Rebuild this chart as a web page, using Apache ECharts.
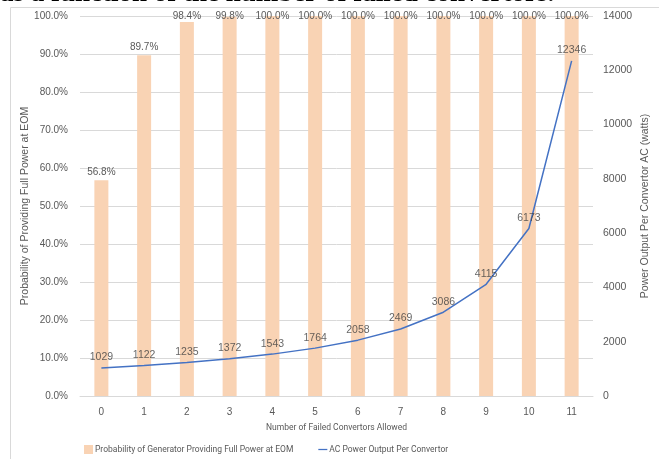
<!DOCTYPE html>
<html>
<head>
<meta charset="utf-8">
<script src="https://cdn.jsdelivr.net/npm/echarts@6/dist/echarts.min.js"></script>
<style>
  html, body { margin: 0; padding: 0; background: #fff; }
  #chart { width: 659px; height: 459px; }
</style>
</head>
<body>
<div id="chart"></div>
<script>
// Number of failed convertors allowed (x axis)
const failedAllowed = ['0', '1', '2', '3', '4', '5', '6', '7', '8', '9', '10', '11'];
// Probability of the generator providing full power at EOM (%)
const probabilityFullPower = [56.8, 89.7, 98.4, 99.8, 100.0, 100.0, 100.0, 100.0, 100.0, 100.0, 100.0, 100.0];
// AC power output per convertor (watts)
const acPowerPerConvertor = [1029, 1122, 1235, 1372, 1543, 1764, 2058, 2469, 3086, 4115, 6173, 12346];

const FONT = '"Liberation Sans", Arial, sans-serif';
const FONT_NARROW = 'Roboto, "Liberation Sans", sans-serif';
const TXT = '#595959';
const GRID_LINE = '#D9D9D9';
const LINE_BLUE = '#4472C4';
const BAR_NAME = 'Probability of Generator Providing Full Power at EOM';
const LINE_NAME = 'AC Power Output Per Convertor';

const chart = echarts.init(document.getElementById('chart'), null, { renderer: 'canvas' });

chart.setOption({
  animation: false,
  textStyle: { fontFamily: FONT },
  graphic: [
    {
      type: 'rect',
      shape: { x: 10.5, y: 7.5, width: 800, height: 600 },
      style: { fill: 'none', stroke: GRID_LINE, lineWidth: 1 },
      silent: true, z: -10
    },
    {
      type: 'text',
      x: 0, y: -6,
      z: 100,
      style: {
        text: 'as a function of the number of failed convertors.',
        font: 'bold 27px "Liberation Serif", "DejaVu Serif", serif',
        fill: '#000',
        verticalAlign: 'middle'
      },
      silent: true
    }
  ],
  grid: { left: 80, right: 66, top: 16, bottom: 63, containLabel: false },
  legend: {
    left: 84, top: 445,
    padding: 0,
    itemGap: 25,
    itemWidth: 9, itemHeight: 9,
    textStyle: { color: TXT, fontSize: 8.5, fontFamily: FONT_NARROW, padding: [0, 0, 0, -3] },
    data: [
      { name: BAR_NAME, icon: 'rect' },
      { name: LINE_NAME, icon: 'path://M0,0 L10,0 L10,1.4 L0,1.4 Z', itemStyle: { color: LINE_BLUE } }
    ]
  },
  xAxis: {
    type: 'category',
    data: failedAllowed,
    name: 'Number of Failed Convertors Allowed',
    nameLocation: 'middle',
    nameGap: 27,
    nameMoveOverlap: false,
    nameTextStyle: { color: TXT, fontSize: 8.5, fontFamily: FONT_NARROW },
    axisLine: { lineStyle: { color: GRID_LINE } },
    axisTick: { show: false },
    axisLabel: { color: TXT, fontSize: 10, margin: 11 }
  },
  yAxis: [
    {
      type: 'value',
      min: 0, max: 100, interval: 10,
      name: 'Probability of Providing Full Power at EOM',
      nameLocation: 'middle',
      nameGap: 49,
      nameMoveOverlap: false,
      nameTextStyle: { color: TXT, fontSize: 10.5 },
      axisLine: { show: false },
      axisTick: { show: false },
      axisLabel: { color: TXT, fontSize: 10, margin: 12, formatter: v => v.toFixed(1) + '%' },
      splitLine: { lineStyle: { color: GRID_LINE } }
    },
    {
      type: 'value',
      min: 0, max: 14000, interval: 2000,
      name: 'Power Output Per Convertor AC (watts)',
      nameLocation: 'middle',
      nameGap: 47,
      nameRotate: 90,
      nameMoveOverlap: false,
      nameTextStyle: { color: TXT, fontSize: 10.5 },
      axisLine: { show: false },
      axisTick: { show: false },
      axisLabel: { color: TXT, fontSize: 10.5, margin: 10, formatter: v => String(v) },
      splitLine: { show: false }
    }
  ],
  series: [
    {
      name: BAR_NAME,
      type: 'bar',
      yAxisIndex: 0,
      data: probabilityFullPower,
      barWidth: 14,
      itemStyle: { color: '#F9D3B4' },
      label: {
        show: true, position: 'top', distance: 3,
        color: TXT, fontSize: 10,
        formatter: p => p.value.toFixed(1) + '%'
      },
      // keep value labels inside the chart area, just under its top edge
      labelLayout: p => ({ dy: Math.max(0, 11 - p.labelRect.y) }),
      z: 1
    },
    {
      name: LINE_NAME,
      type: 'line',
      yAxisIndex: 1,
      data: acPowerPerConvertor,
      symbol: 'none',
      lineStyle: { color: LINE_BLUE, width: 1.5 },
      itemStyle: { color: LINE_BLUE },
      z: 3
    },
    {
      // value labels for the power line
      name: 'power-labels',
      type: 'scatter',
      yAxisIndex: 1,
      data: acPowerPerConvertor,
      symbolSize: 0,
      silent: true,
      label: {
        show: true, position: 'top', distance: 5,
        color: '#404040', fontSize: 10.5
      },
      z: 4
    }
  ]
});
</script>
</body>
</html>
